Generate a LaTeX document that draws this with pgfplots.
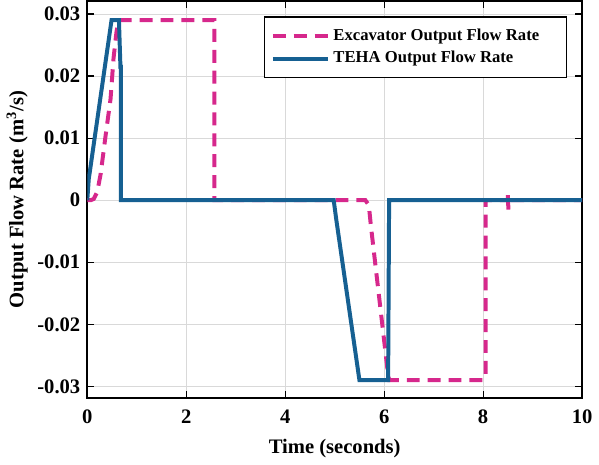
\documentclass[border=0pt]{standalone}
\usepackage{fontspec}
\setmainfont{Liberation Serif}
\usepackage{pgfplots}
\pgfplotsset{compat=1.18}
\definecolor{mag}{RGB}{214,40,140}
\definecolor{teha}{RGB}{22,96,146}
\begin{document}
\begin{tikzpicture}
\begin{axis}[
  scale only axis, width=248.8bp, height=199.7bp,
  xmin=0, xmax=10, ymin=-0.0319, ymax=0.0321,
  scaled y ticks=false, scaled x ticks=false,
  xtick={0,2,4,6,8,10}, xticklabels={0,2,4,6,8,10},
  ytick={-0.03,-0.02,-0.01,0,0.01,0.02,0.03},
  yticklabels={-0.03,-0.02,-0.01,0,0.01,0.02,0.03},
  tick align=inside, major tick length=3.5bp,
  grid=major, grid style={color=black!15, line width=0.5bp},
  axis line style={line width=1bp},
  tick style={line width=0.6bp, black},
  ticklabel style={font=\fontsize{10.4}{12}\selectfont\bfseries},
  xticklabel style={yshift=-2.5bp},
  label style={font=\fontsize{10.4}{12}\selectfont\bfseries},
  xlabel={Time (seconds)},
  ylabel={Output Flow Rate (m\textsuperscript{3}/s)},
  xlabel style={yshift=-1bp},
  ylabel style={yshift=-2bp},
  legend style={at={(0.969,0.961)}, anchor=north east, draw=black, line width=0.6bp,
    font=\fontsize{8.4}{9.6}\selectfont\bfseries, inner xsep=3bp, inner ysep=4bp, row sep=0bp,
    /tikz/every even column/.append style={column sep=2bp}},
  legend cell align=left,
  legend image code/.code={\draw[#1] (0bp,0bp) -- (27.5bp,0bp);},
]
\addplot[mag, line width=2bp, dash pattern=on 6.5bp off 4bp] coordinates {
(0,0) (0.07,0) (0.13,0.0002) (0.2,0.0013) (0.27,0.0042) (0.37,0.0104) (0.47,0.0163)
(0.53,0.0228) (0.59,0.0271) (0.63,0.029) (2.57,0.029) (2.57,0)
(5.0,0) (5.62,0) (5.69,-0.0008) (5.73,-0.004) (6.07,-0.0275) (6.1,-0.029)
(8.0,-0.029) (8.05,-0.0285) (8.05,0) (8.5,0) (8.5,0.001) (8.51,-0.0015) (8.51,0) (10,0)};
\addlegendentry{\makebox[112bp][l]{Excavator Output Flow Rate}}
\addplot[teha, line width=2bp] coordinates {
(0,0) (0.03,0.0034) (0.49,0.029) (0.64,0.029) (0.67,0.0215) (0.68,0.0215) (0.68,0)
(4.98,0) (5.03,-0.003) (5.5,-0.029) (6.08,-0.029) (6.1,0) (10,0)};
\addlegendentry{TEHA Output Flow Rate}
\end{axis}
\end{tikzpicture}
\end{document}
